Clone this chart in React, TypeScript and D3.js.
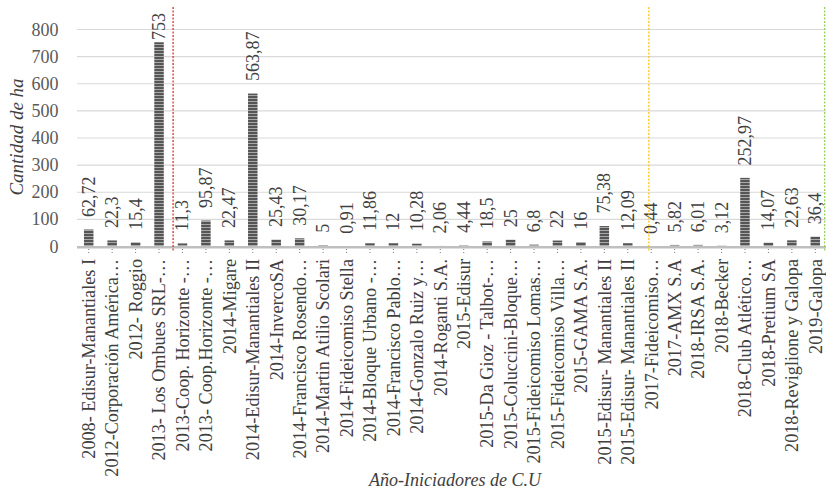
import React from "react";
import * as d3 from "d3";

const categories: string[] = [
  "2008- Edisur-Manantiales I",
  "2012-Corporación América…",
  "2012- Roggio",
  "2013- Los Ombues SRL-…",
  "2013-Coop. Horizonte -…",
  "2013- Coop.Horizonte -…",
  "2014-Migare",
  "2014-Edisur-Manantiales II",
  "2014-InvercoSA",
  "2014-Francisco Rosendo…",
  "2014-Martin Atilio Scolari",
  "2014-Fideicomiso Stella",
  "2014-Bloque Urbano -…",
  "2014-Francisco Pablo…",
  "2014-Gonzalo Ruiz y…",
  "2014-Roganti S.A.",
  "2015-Edisur",
  "2015-Da Gioz - Talbot-…",
  "2015-Coluccini-Bloque…",
  "2015-Fideicomiso Lomas…",
  "2015-Fideicomiso Villa…",
  "2015-GAMA S.A.",
  "2015-Edisur- Manantiales II",
  "2015-Edisur- Manantiales II",
  "2017-Fideicomiso…",
  "2017-AMX S.A",
  "2018-IRSA S.A.",
  "2018-Becker",
  "2018-Club Atlético…",
  "2018-Pretium SA",
  "2018-Reviglione y Galopa",
  "2019-Galopa",
];

const values: number[] = [
  62.72, 22.3, 15.4, 753, 11.3, 95.87, 22.47, 563.87, 25.43, 30.17, 5, 0.91,
  11.86, 12, 10.28, 2.06, 4.44, 18.5, 25, 6.8, 22, 16, 75.38, 12.09, 0.44,
  5.82, 6.01, 3.12, 252.97, 14.07, 22.63, 36.4,
];

const yTicks: number[] = [0, 100, 200, 300, 400, 500, 600, 700, 800];

// vertical dotted separators, in category units
const separatorPositions: number[] = [4.1, 24.4, 31.9];
const separatorColors: string[] = ["#d62020", "#ffc000", "#92d050"];

const yTitle = "Cantidad de ha";
const xTitle = "Año-Iniciadores de C.U";

const W = 826;
const H = 491;
const left = 77;
const right = 827;
const top0 = 29.5;
const bottom0 = 246.5;
const FONT = "Liberation Serif";

export default function App() {
  const x = d3
    .scaleBand<string>()
    .domain(categories.map((_, i) => String(i)))
    .range([left, right])
    .paddingInner(0.595)
    .paddingOuter(0.2975);
  const y = d3.scaleLinear().domain([0, 800]).range([bottom0, top0]);
  const step = x.step();
  const bw = x.bandwidth();
  const fmt = (v: number) => String(v).replace(".", ",");

  return (
    <svg width={W} height={H} style={{ position: "absolute", left: 0, top: 0 }}>
      <defs>
        <pattern id="stripes" width="4" height="3" patternUnits="userSpaceOnUse">
          <rect width="4" height="3" fill="#555" />
          <rect y="2" width="4" height="1" fill="#a8a8a8" />
        </pattern>
      </defs>
      <rect width={W} height={H} fill="#fff" />
      {yTicks.slice(1).map((t) => (
        <line
          key={t}
          x1={left}
          x2={right}
          y1={y(t)}
          y2={y(t)}
          stroke="#d9d9d9"
          strokeWidth={1.2}
        />
      ))}
      {yTicks.map((t) => (
        <text
          key={t}
          x={58.5}
          y={y(t) + 6}
          textAnchor="end"
          fontSize={18}
          fill="#595959"
          style={{ fontFamily: FONT }}
        >
          {t}
        </text>
      ))}
      {values.map((v, i) => {
        const bx = x(String(i))!;
        return (
          <rect
            key={i}
            x={bx}
            y={y(v)}
            width={bw}
            height={bottom0 - y(v)}
            fill="url(#stripes)"
          />
        );
      })}
      <line
        x1={left}
        x2={right}
        y1={bottom0 + 0.8}
        y2={bottom0 + 0.8}
        stroke="#bfbfbf"
        strokeWidth={2.6}
      />
      {values.map((_, i) => {
        const cx = x(String(i))! + bw / 2;
        return (
          <line
            key={i}
            x1={cx}
            x2={cx}
            y1={bottom0 + 2.5}
            y2={bottom0 + 7}
            stroke="#777"
            strokeWidth={1}
            strokeDasharray="1,2"
          />
        );
      })}
      {values.map((v, i) => {
        const cx = x(String(i))! + bw / 2 + 6;
        const by = Math.max(y(v) - 12.5, 40);
        return (
          <text
            key={i}
            transform={`translate(${cx},${by}) rotate(-90)`}
            textAnchor="start"
            fontSize={18}
            fill="#404040"
            style={{ fontFamily: FONT }}
          >
            {fmt(v)}
          </text>
        );
      })}
      {categories.map((c, i) => {
        const cx = x(String(i))! + bw / 2 + 6.3;
        return (
          <text
            key={i}
            transform={`translate(${cx},${259}) rotate(-90)`}
            textAnchor="end"
            fontSize={18.2}
            fill="#404040"
            style={{ fontFamily: FONT }}
          >
            {c}
          </text>
        );
      })}
      {separatorPositions.map((p, i) => {
        const sx = left + p * step;
        return (
          <line
            key={i}
            x1={sx}
            x2={sx}
            y1={7}
            y2={252}
            stroke={separatorColors[i]}
            strokeWidth={1.2}
            strokeDasharray="2,1.5"
          />
        );
      })}
      <text
        transform={`translate(23,${137}) rotate(-90)`}
        textAnchor="middle"
        fontSize={19}
        fontStyle="italic"
        fill="#404040"
        style={{ fontFamily: FONT }}
      >
        {yTitle}
      </text>
      <text
        x={(left + right) / 2 + 3}
        y={486}
        textAnchor="middle"
        fontSize={18}
        fontStyle="italic"
        fill="#404040"
        style={{ fontFamily: FONT }}
      >
        {xTitle}
      </text>
    </svg>
  );
}
